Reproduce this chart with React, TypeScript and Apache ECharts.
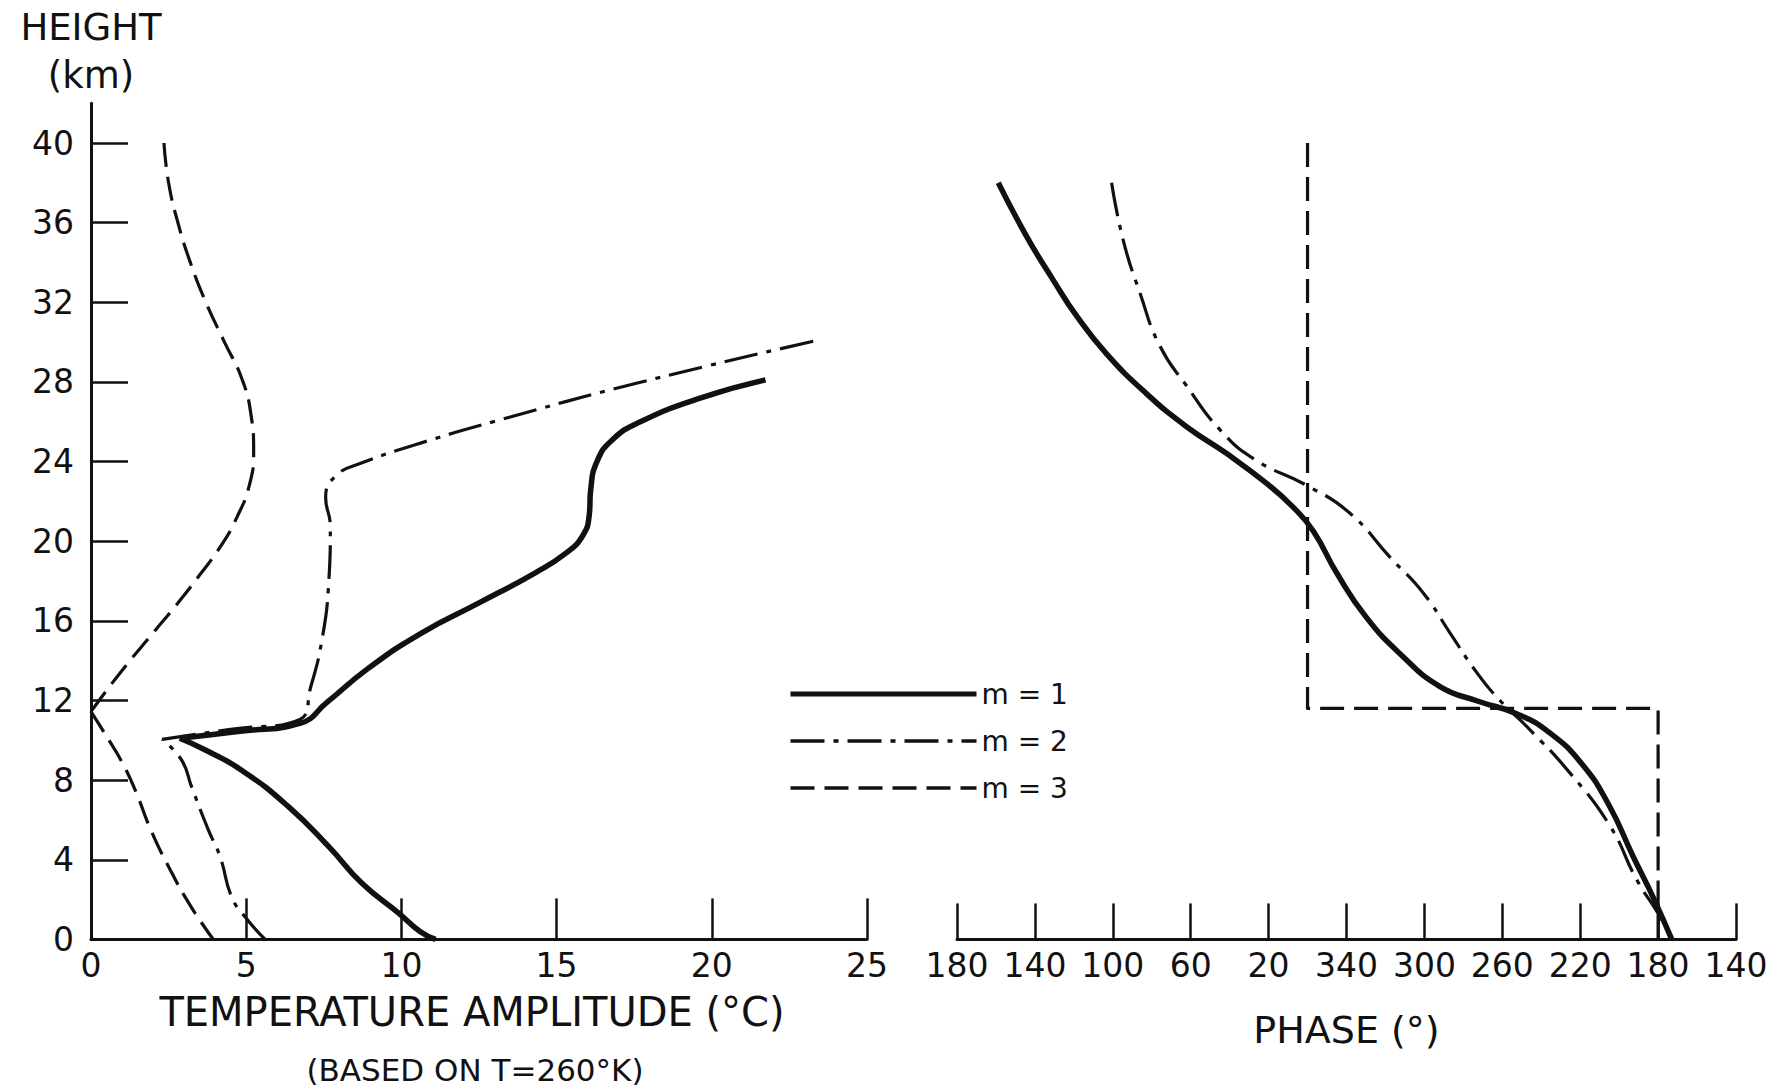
import React, { useEffect, useRef } from "react";
import * as echarts from "echarts";

// ---------- data ----------
// Left panel: [temperature amplitude (°C), height (km)]
const ampM1Lower: [number, number][] = [
  [11.1, 0], [10.6, 0.4], [9.92, 1.31], [8.73, 2.82], [7.66, 4.66], [6.36, 6.67],
  [4.85, 8.5], [3.7, 9.5], [2.86, 10.1],
];
const ampM1Upper: [number, number][] = [
  [2.86, 10.1], [4.8, 10.45], [6.73, 10.85], [7.6, 11.9], [8.92, 13.6],
  [10.66, 15.4], [12.5, 16.9], [14.3, 18.4], [15.3, 19.4], [15.85, 20.3],
  [16.05, 21.3], [16.1, 22.6], [16.3, 24.0], [16.8, 25.1], [17.7, 26.0],
  [19.65, 27.2], [21.73, 28.1],
];
const ampM2Lower: [number, number][] = [
  [5.61, 0], [4.96, 1.14], [4.53, 2.14], [4.16, 4.15], [3.78, 5.5], [3.24, 7.67],
  [2.92, 9.0], [2.29, 10.05],
];
const ampM2Upper: [number, number][] = [
  [2.29, 10.05], [4.5, 10.55], [6.73, 11.05], [7.08, 12.69], [7.42, 14.87],
  [7.65, 17.71], [7.71, 20.73], [7.56, 22.2], [7.9, 23.3], [8.69, 23.91],
  [10.42, 24.83], [12.96, 26.0], [17.57, 27.93], [23.34, 30.07],
];
const ampM3Upper: [number, number][] = [
  [2.35, 40], [2.5, 38], [2.8, 36], [3.2, 34], [3.7, 32], [4.3, 30],
  [4.85, 28.2], [5.15, 26.4], [5.24, 24.5], [5.1, 22.8], [4.7, 21.2], [4.2, 19.8],
  [3.5, 18.3], [2.75, 16.8], [1.95, 15.3], [1.15, 13.8], [0.5, 12.5], [0, 11.44],
];
const ampM3Lower: [number, number][] = [
  [0, 11.44], [0.5, 10.2], [1.0, 8.9], [1.45, 7.4], [1.9, 5.6], [2.5, 3.65],
  [3.2, 1.7], [3.94, 0],
];

// Right panel: [phase (°, unwrapped: negative = 360 + value), height (km)]
const phaseM1: [number, number][] = [
  [158.8, 38], [144.2, 35.3], [130.5, 33.1], [118.5, 31.3], [103.1, 29.4], [82.6, 27.4],
  [62.1, 25.75], [41.5, 24.4], [21, 22.9], [7.3, 21.7], [-3, 20.5], [-15, 18.4],
  [-30, 16.2], [-48, 14.3], [-68, 12.7], [-88, 11.95], [-107, 11.35],
  [-124, 10.4], [-141, 8.8], [-155, 6.7], [-167, 4.2], [-178, 2.0],
  [-187, 0],
];
const phaseM2: [number, number][] = [
  [100.6, 38], [94.6, 35.1], [86, 32.45], [75.8, 29.8], [62.1, 27.8], [45, 25.6],
  [27, 24.1], [0.4, 22.8], [-21.8, 21.4], [-42.3, 19.2], [-59.4, 17.4], [-73.1, 15.4],
  [-86.9, 13.4], [-98.8, 12.0], [-112.5, 10.7], [-134.8, 8.35], [-155.3, 5.7],
  [-169, 3.0], [-180, 1.3], [-187, 0],
];
const phaseM3: [number, number][] = [
  [0, 40], [0, 11.6], [-180, 11.6], [-180, 0],
];

const heightTicks = [4, 8, 12, 16, 20, 24, 28, 32, 36, 40];
const heightLabels = [0, 4, 8, 12, 16, 20, 24, 28, 32, 36, 40];
const seriesNames = ["m = 1", "m = 2", "m = 3"];

// ---------- styling ----------
const FONT = "'DejaVu Sans', sans-serif";
const INK = "#111";
const PX_PER_KM = 19.91;
const Y_MAX = 42;
const BASE_Y = 939.4;
const GRID_TOP = BASE_Y - Y_MAX * PX_PER_KM;
const GRID_H = Y_MAX * PX_PER_KM;

const styles = [
  { color: INK, width: 5.5, type: "solid" as any },
  { color: INK, width: 3.2, type: [34, 9, 5, 9] as any },
  { color: INK, width: 3.2, type: [24, 10] as any },
];

const toPhaseAxis = (d: [number, number][]) => d.map(([p, h]) => [180 - p, h]);

function lineSeries(idx: number, panel: number, data: number[][], smooth: number | boolean) {
  return {
    type: "line",
    name: seriesNames[idx],
    xAxisIndex: panel,
    yAxisIndex: panel,
    data,
    smooth,
    symbol: "none",
    silent: true,
    lineStyle: { ...styles[idx], cap: "butt", join: "round" },
    itemStyle: { color: INK },
    z: 3 - idx,
  };
}

const axisCommon = {
  axisLine: { show: true, lineStyle: { color: INK, width: 3 } },
  splitLine: { show: false },
  axisLabel: { color: INK, fontSize: 33, fontFamily: FONT },
};

export default function App() {
  const ref = useRef<HTMLDivElement>(null);
  useEffect(() => {
    const chart = echarts.init(ref.current!, null, { renderer: "svg" });
    chart.setOption({
      animation: false,
      backgroundColor: "#fff",
      grid: [
        { left: 91, top: GRID_TOP, width: 776, height: GRID_H },
        { left: 957, top: GRID_TOP, width: 779, height: GRID_H },
      ],
      xAxis: [
        {
          type: "value", gridIndex: 0, min: 0, max: 25, interval: 5,
          ...axisCommon,
          axisTick: { show: true, inside: true, length: 41, lineStyle: { color: INK, width: 2.5 } },
          axisLabel: { ...axisCommon.axisLabel, margin: 10 },
          name: "TEMPERATURE AMPLITUDE (°C)",
          nameLocation: "middle",
          nameGap: 53,
          nameTextStyle: { color: INK, fontSize: 40, fontFamily: FONT, padding: [0, 14, 0, 0] },
        },
        {
          type: "value", gridIndex: 1, min: 0, max: 400, interval: 40,
          ...axisCommon,
          axisTick: { show: true, inside: true, length: 36, lineStyle: { color: INK, width: 2.5 } },
          axisLabel: {
            ...axisCommon.axisLabel, margin: 10,
            formatter: (v: number) => {
              let p = 180 - v;
              if (p < 0) p += 360;
              return String(Math.round(p));
            },
          },
          name: "PHASE (°)",
          nameLocation: "middle",
          nameGap: 72,
          nameTextStyle: { color: INK, fontSize: 38, fontFamily: FONT },
        },
      ],
      yAxis: [
        {
          type: "value", gridIndex: 0, min: 0, max: Y_MAX,
          ...axisCommon,
          axisTick: { show: true, inside: true, length: 37, customValues: heightTicks, lineStyle: { color: INK, width: 2.5 } },
          axisLabel: { ...axisCommon.axisLabel, margin: 17, customValues: heightLabels },
          name: "HEIGHT\n(km)",
          nameLocation: "end",
          nameGap: 4,
          nameTextStyle: { color: INK, fontSize: 37, lineHeight: 48, fontFamily: FONT, align: "center" },
        },
        { type: "value", gridIndex: 1, min: 0, max: Y_MAX, show: false },
      ],
      legend: {
        data: seriesNames.map((n, i) => ({
          name: n,
          itemStyle: { opacity: 0 },
          lineStyle: { color: INK, width: i === 0 ? 5 : 3.5, type: styles[i].type },
        })),
        orient: "vertical",
        left: 783,
        top: 674,
        itemWidth: 186,
        itemHeight: 14,
        itemGap: 17,
        selectedMode: false,
        itemStyle: { opacity: 0 },
        textStyle: { color: INK, fontSize: 28, lineHeight: 30, fontFamily: FONT },
      },
      graphic: [
        {
          type: "text",
          x: 475,
          y: 1070,
          silent: true,
          style: {
            text: "(BASED ON T=260°K)",
            fill: INK,
            fontSize: 31,
            fontFamily: FONT,
            align: "center",
            verticalAlign: "middle",
          },
        },
      ],
      series: [
        lineSeries(0, 0, ampM1Lower, 0.5),
        lineSeries(0, 0, ampM1Upper, 0.5),
        lineSeries(1, 0, ampM2Lower, 0.5),
        lineSeries(1, 0, ampM2Upper, 0.5),
        lineSeries(2, 0, ampM3Upper, 0.5),
        lineSeries(2, 0, ampM3Lower, 0.5),
        lineSeries(0, 1, toPhaseAxis(phaseM1), 0.5),
        lineSeries(1, 1, toPhaseAxis(phaseM2), 0.5),
        lineSeries(2, 1, toPhaseAxis(phaseM3), false),
      ],
    });
    return () => chart.dispose();
  }, []);
  return (
    <div
      ref={ref}
      style={{ position: "fixed", left: 0, top: 0, width: 1779, height: 1089, background: "#fff" }}
    />
  );
}
